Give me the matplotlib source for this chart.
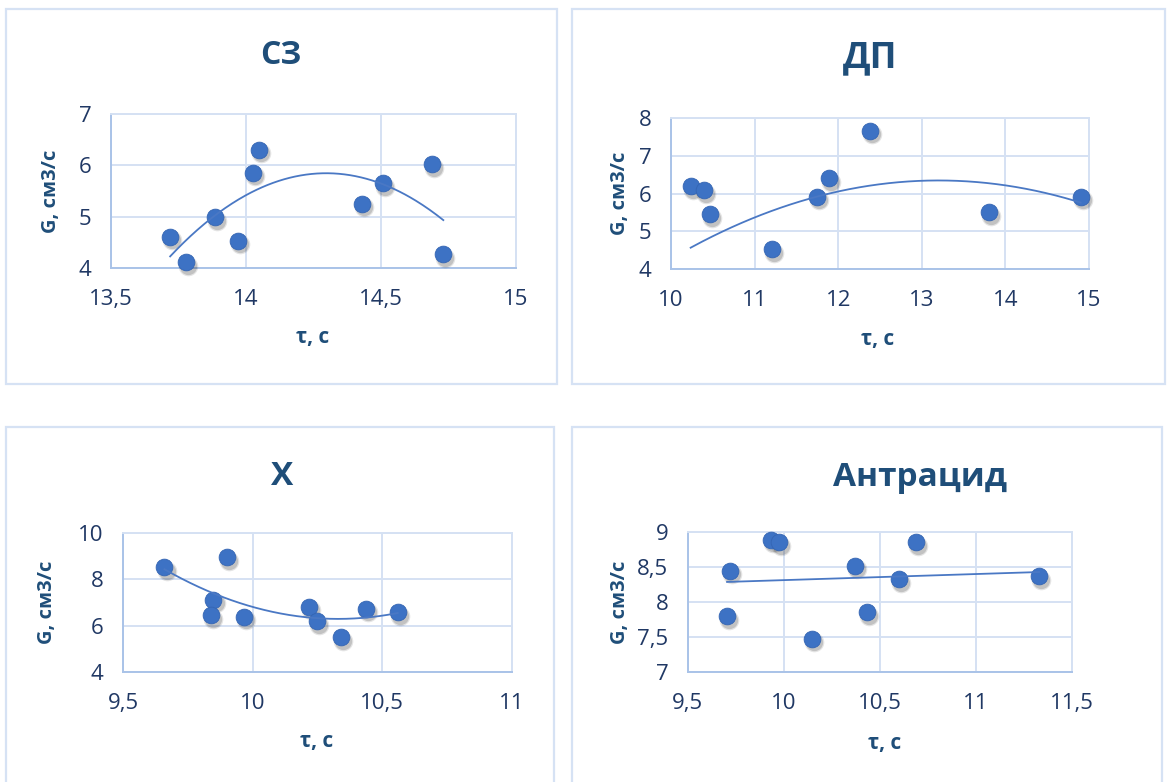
import numpy as np
import matplotlib
matplotlib.use("Agg")
import matplotlib.pyplot as plt
import matplotlib.transforms as mtransforms
from matplotlib.patches import Rectangle

plt.rcParams['font.family'] = ['Open Sans', 'DejaVu Sans']

# --- data ---
titles = ["СЗ", "ДП", "Х", "Антрацид"]

tau_sz = [13.72, 13.78, 13.886, 13.97, 14.028, 14.05, 14.43, 14.509, 14.688, 14.731]
g_sz = [4.61, 4.11, 4.99, 4.53, 5.86, 6.30, 5.25, 5.65, 6.02, 4.27]

tau_dp = [10.235, 10.39, 10.47, 11.21, 11.75, 11.886, 12.38, 13.80, 14.90]
g_dp = [6.20, 6.09, 5.45, 4.53, 5.92, 6.41, 7.67, 5.51, 5.92]

tau_x = [9.66, 9.90, 9.849, 9.838, 9.968, 10.217, 10.25, 10.34, 10.438, 10.56]
g_x = [8.51, 8.94, 7.11, 6.45, 6.39, 6.82, 6.20, 5.50, 6.72, 6.59]

tau_an = [9.72, 9.705, 9.935, 9.975, 10.147, 10.37, 10.435, 10.60, 10.69, 11.33]
g_an = [8.45, 7.80, 8.89, 8.86, 7.48, 8.52, 7.86, 8.33, 8.86, 8.37]

xticks = [[13.5, 14, 14.5, 15], [10, 11, 12, 13, 14, 15],
          [9.5, 10, 10.5, 11], [9.5, 10, 10.5, 11, 11.5]]
yticks = [[4, 5, 6, 7], [4, 5, 6, 7, 8],
          [4, 6, 8, 10], [7, 7.5, 8, 8.5, 9]]
trend_order = [2, 2, 2, 1]

# the ДП trendline in the picture does not follow a plain fit of the visible
# points, so its parabola is read off the picture: vertex and curvature
dp_vertex = (13.2, 6.35)
dp_curv = -0.203

W, H = 1167, 782
fig = plt.figure(figsize=(W / 100, H / 100), dpi=100)
fig.patch.set_facecolor('white')


def fx(px):
    return px / W


def fy(py):
    return 1 - py / H


# chart boxes (left, top, right, bottom) in pixels
boxes = [(6, 9, 557, 384), (572, 9, 1165, 384),
         (6, 427, 554, 790), (572, 427, 1162, 790)]
for l, t, r, b in boxes:
    fig.patches.append(Rectangle((fx(l), fy(b)), fx(r - l), (b - t) / H,
                                 transform=fig.transFigure, fill=False,
                                 edgecolor='#d6e2f4', linewidth=1.6))

# plot areas in pixels
areas = [(110.7, 114, 516, 268), (671, 118.3, 1089, 269),
         (123, 532.7, 511.7, 672.3), (687.7, 532.3, 1071.7, 672.3)]
title_pos = [(281, 55, 23), (870, 58, 26), (282, 476, 24), (920, 478, 24)]
ylab_x = [51, 620, 47, 620]
xlab_pos = [(313, 338), (878, 340), (317, 741), (885, 743)]

series = [(tau_sz, g_sz), (tau_dp, g_dp), (tau_x, g_x), (tau_an, g_an)]

dark = '#203864'
title_c = '#1f4e79'
blue = '#3d72c4'

for i, (tau, g) in enumerate(series):
    l, t, r, b = areas[i]
    ax = fig.add_axes([fx(l), fy(b), fx(r - l), (b - t) / H])
    ax.set_xlim(xticks[i][0], xticks[i][-1])
    ax.set_ylim(yticks[i][0], yticks[i][-1])
    ax.set_xticks(xticks[i])
    ax.set_yticks(yticks[i])
    ax.set_xticklabels([f"{v:g}".replace('.', ',') for v in xticks[i]])
    ax.set_yticklabels([f"{v:g}".replace('.', ',') for v in yticks[i]])
    ax.tick_params(length=0, labelsize=16, colors=dark)
    ax.tick_params(axis='x', pad=15)
    ax.tick_params(axis='y', pad=14)
    ax.grid(True, color='#d5e1f3', linewidth=1.4)
    ax.set_axisbelow(True)
    for side in ['top', 'right']:
        ax.spines[side].set_color('#d5e1f3')
        ax.spines[side].set_linewidth(1.4)
    for side in ['left', 'bottom']:
        ax.spines[side].set_color('#a9c3e8')
        ax.spines[side].set_linewidth(1.4)

    # soft shadow under markers
    for dx, dy, a, s in [(1.5, -2.5, 0.10, 200), (1.5, -2.5, 0.15, 155)]:
        tr = mtransforms.offset_copy(ax.transData, fig=fig, x=dx, y=dy, units='points')
        ax.scatter(tau, g, s=s, color='black', alpha=a, linewidths=0,
                   transform=tr, zorder=3, clip_on=False)
    ax.scatter(tau, g, s=145, color=blue, edgecolors='#3465b3', linewidths=0.6,
               zorder=4, clip_on=False)

    # trendline
    xs = np.linspace(min(tau), max(tau), 200)
    if i == 1:
        ys = dp_vertex[1] + dp_curv * (xs - dp_vertex[0]) ** 2
    else:
        coef = np.polyfit(tau, g, trend_order[i])
        ys = np.polyval(coef, xs)
    ax.plot(xs, ys, color='#4a78c4', linewidth=1.3, zorder=5)

    tx, ty, ts = title_pos[i]
    fig.text(fx(tx), fy(ty), titles[i], ha='center', va='center',
             fontsize=ts, fontweight='bold', color=title_c)
    fig.text(fx(ylab_x[i]), fy((t + b) / 2), "G, см3/с", rotation=90,
             ha='center', va='center', fontsize=14.5, fontweight='bold', color=title_c)
    xx, xy = xlab_pos[i]
    fig.text(fx(xx), fy(xy), "τ, с", ha='center', va='center',
             fontsize=15, fontweight='bold', color=title_c)

fig.savefig('out.png', dpi=100, facecolor='white')
